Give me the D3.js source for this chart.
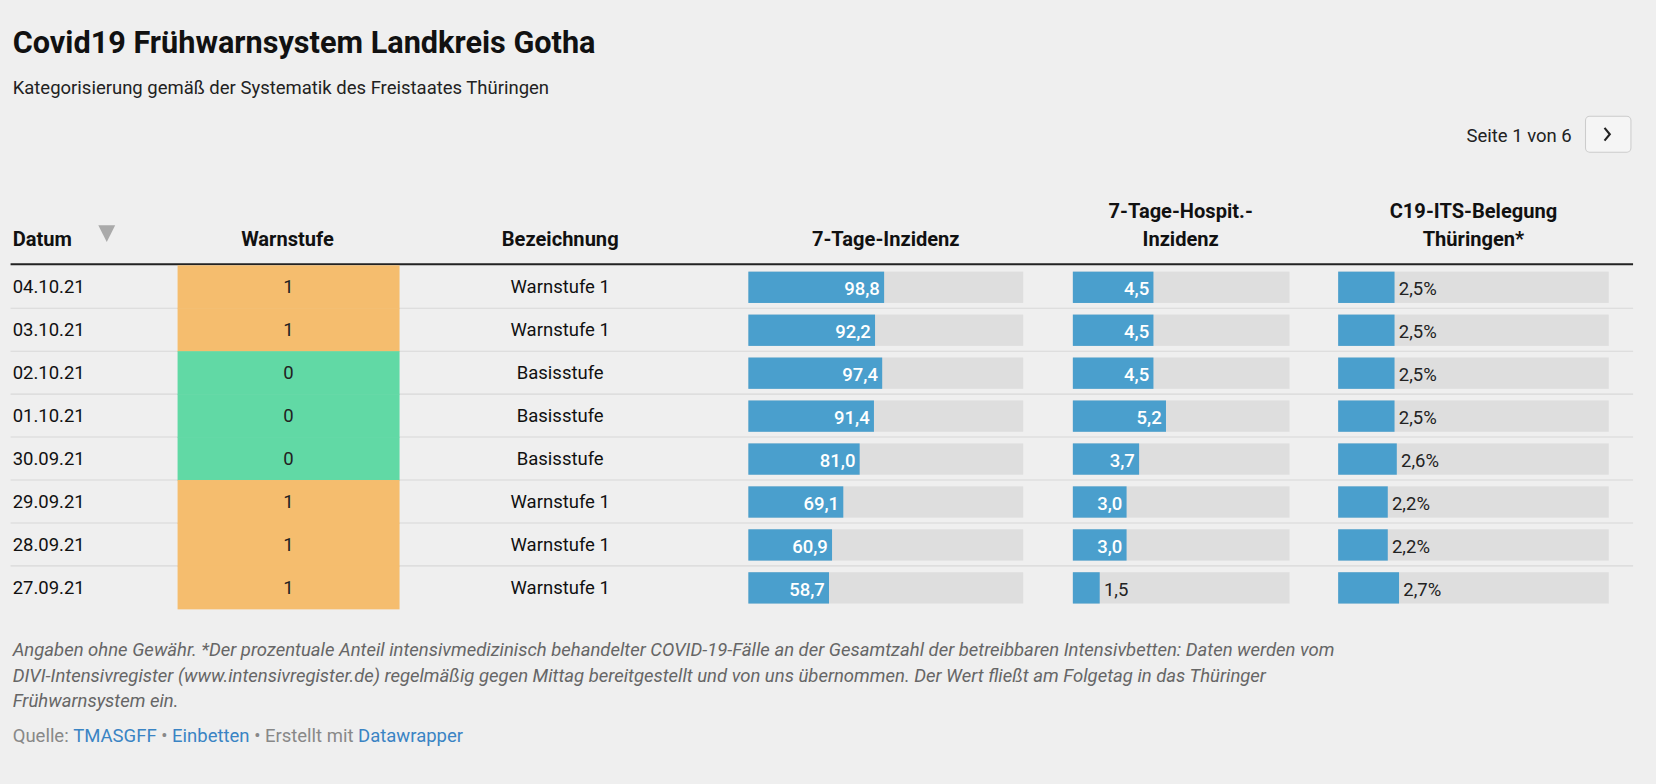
<!DOCTYPE html>
<html><head><meta charset="utf-8">
<script src="https://cdn.jsdelivr.net/npm/d3@7"></script>
<style>
body{margin:0;background:#efefef;font-family:Roboto,"Noto Sans",sans-serif;}
</style></head><body>
<svg id="chart" width="1656" height="784"></svg>
<script>
var dates = ["04.10.21","03.10.21","02.10.21","01.10.21","30.09.21","29.09.21","28.09.21","27.09.21"];
var stufe = [1,1,0,0,0,1,1,1];
var bezeichnung = ["Warnstufe 1","Warnstufe 1","Basisstufe","Basisstufe","Basisstufe","Warnstufe 1","Warnstufe 1","Warnstufe 1"];
var inzidenz = [98.8,92.2,97.4,91.4,81.0,69.1,60.9,58.7];
var hospit = [4.5,4.5,4.5,5.2,3.7,3.0,3.0,1.5];
var its = [2.5,2.5,2.5,2.5,2.6,2.2,2.2,2.7];

var svg = d3.select("#chart").append("g").attr("transform","scale(1.057)");
var fmt = function(v){ return d3.format(".1f")(v).replace(".", ","); };

svg.append("text").attr("x",12).attr("y",50).attr("font-size",29).attr("font-weight",700).attr("fill","#111")
  .text("Covid19 Frühwarnsystem Landkreis Gotha");
svg.append("text").attr("x",12).attr("y",89).attr("font-size",17.5).attr("fill","#222")
  .text("Kategorisierung gemäß der Systematik des Freistaates Thüringen");

// pager
svg.append("text").attr("x",1487).attr("y",134).attr("text-anchor","end").attr("font-size",17.5).attr("fill","#222").text("Seite 1 von 6");
svg.append("rect").attr("x",1500).attr("y",110).attr("width",43).attr("height",34).attr("rx",4)
  .attr("fill","#f5f5f5").attr("stroke","#ccc");
svg.append("path").attr("d","M1518,121 l5,6 l-5,6").attr("fill","none").attr("stroke","#222").attr("stroke-width",2);

// header
var hdr = svg.append("g").attr("font-size",19).attr("font-weight",700).attr("fill","#111");
hdr.append("text").attr("x",12).attr("y",233).text("Datum");
svg.append("path").attr("d","M93,213 l16,0 l-8,16 z").attr("fill","#aaa");
hdr.append("text").attr("x",272).attr("y",233).attr("text-anchor","middle").text("Warnstufe");
hdr.append("text").attr("x",530).attr("y",233).attr("text-anchor","middle").text("Bezeichnung");
hdr.append("text").attr("x",838).attr("y",233).attr("text-anchor","middle").text("7-Tage-Inzidenz");
hdr.append("text").attr("x",1117).attr("y",206).attr("text-anchor","middle").text("7-Tage-Hospit.-");
hdr.append("text").attr("x",1117).attr("y",233).attr("text-anchor","middle").text("Inzidenz");
hdr.append("text").attr("x",1394).attr("y",206).attr("text-anchor","middle").text("C19-ITS-Belegung");
hdr.append("text").attr("x",1394).attr("y",233).attr("text-anchor","middle").text("Thüringen*");
svg.append("line").attr("x1",10).attr("x2",1545).attr("y1",250).attr("y2",250).attr("stroke","#222").attr("stroke-width",2);

var y = d3.scaleBand().domain(d3.range(dates.length)).range([251,576]);
var xInz = d3.scaleLinear().domain([0,200]).range([708,968]);
var xHos = d3.scaleLinear().domain([0,12.1]).range([1015,1220]);
var xIts = d3.scaleLinear().domain([0,12]).range([1266,1522]);

var rows = svg.selectAll("g.row").data(dates).join("g").attr("class","row")
  .attr("transform",function(d,i){ return "translate(0,"+y(i)+")"; });
var h = y.bandwidth();
rows.append("line").attr("x1",10).attr("x2",1545).attr("y1",h).attr("y2",h)
  .attr("stroke","#d8d8d8").attr("display",function(d,i){ return i<dates.length-1?null:"none"; });
rows.append("rect").attr("x",168).attr("width",210).attr("y",0).attr("height",h+0.5)
  .attr("fill",function(d,i){ return stufe[i]===1?"#f5bd6e":"#61d9a5"; });
rows.append("text").attr("x",12).attr("y",h/2+6).attr("font-size",17.5).attr("fill","#111").text(function(d){ return d; });
rows.append("text").attr("x",273).attr("y",h/2+6).attr("text-anchor","middle").attr("font-size",17.5).attr("fill","#222").text(function(d,i){ return stufe[i]; });
rows.append("text").attr("x",530).attr("y",h/2+6).attr("text-anchor","middle").attr("font-size",17.5).attr("fill","#111").text(function(d,i){ return bezeichnung[i]; });

function bars(vals, x, suffix){
  rows.append("rect").attr("x",x.range()[0]).attr("width",x.range()[1]-x.range()[0])
    .attr("y",6).attr("height",h-11).attr("fill","#dedede");
  rows.append("rect").attr("x",x.range()[0]).attr("width",function(d,i){ return x(vals[i])-x.range()[0]; })
    .attr("y",6).attr("height",h-11).attr("fill","#4a9fcd");
  rows.append("text").attr("y",h/2+8).attr("font-size",17.5)
    .each(function(d,i){
      var w = x(vals[i])-x.range()[0], t = d3.select(this);
      t.text(fmt(vals[i])+suffix);
      if (w > 40 && !suffix) t.attr("x",x(vals[i])-4).attr("text-anchor","end").attr("fill","#fff").attr("font-weight",500);
      else t.attr("x",x(vals[i])+4).attr("fill","#222");
    });
}
bars(inzidenz, xInz, "");
bars(hospit, xHos, "");
bars(its, xIts, "%");

var notes = ["Angaben ohne Gewähr. *Der prozentuale Anteil intensivmedizinisch behandelter COVID-19-Fälle an der Gesamtzahl der betreibbaren Intensivbetten: Daten werden vom",
 "DIVI-Intensivregister (www.intensivregister.de) regelmäßig gegen Mittag bereitgestellt und von uns übernommen. Der Wert fließt am Folgetag in das Thüringer",
 "Frühwarnsystem ein."];
svg.selectAll("text.note").data(notes).join("text").attr("class","note")
  .attr("x",12).attr("y",function(d,i){ return 621+i*24; }).attr("font-size",17.5).attr("font-style","italic").attr("fill","#666")
  .text(function(d){ return d; });

var src = svg.append("text").attr("x",12).attr("y",702).attr("font-size",17.5).attr("fill","#888");
src.append("tspan").text("Quelle: ");
src.append("tspan").attr("fill","#3a84c4").text("TMASGFF");
src.append("tspan").text(" • ");
src.append("tspan").attr("fill","#3a84c4").text("Einbetten");
src.append("tspan").text(" • Erstellt mit ");
src.append("tspan").attr("fill","#3a84c4").text("Datawrapper");
</script></body></html>
